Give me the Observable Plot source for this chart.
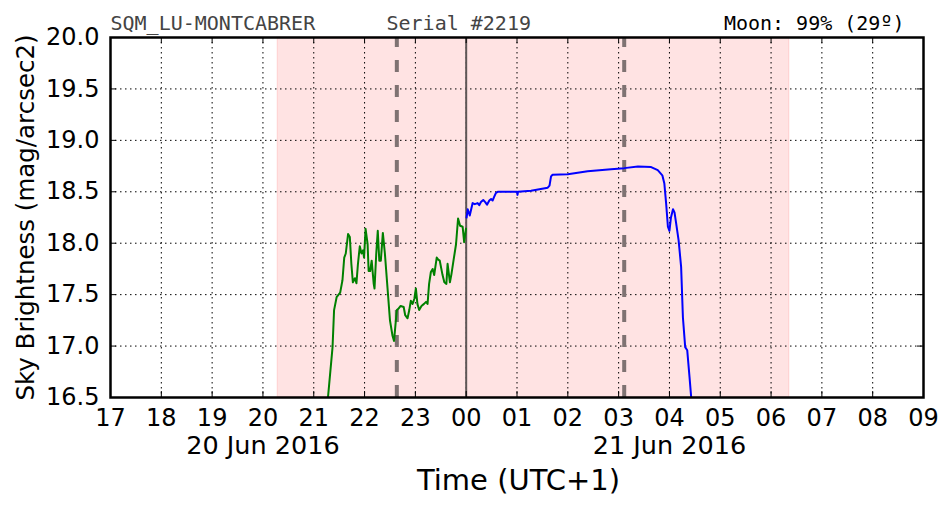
<!DOCTYPE html>
<html>
<head>
<meta charset="utf-8">
<script src="https://cdn.jsdelivr.net/npm/d3@7"></script>
<script src="https://cdn.jsdelivr.net/npm/@observablehq/plot@0.6"></script>
<style>
  html, body { margin: 0; padding: 0; background: white; }
</style>
</head>
<body>
<div id="chart"></div>
<script>
// ---- data ----
const hourTicks = [17,18,19,20,21,22,23,24,25,26,27,28,29,30,31,32,33];
const hourLabels = ["17","18","19","20","21","22","23","00","01","02","03","04","05","06","07","08","09"];
const yTicks = [16.5,17.0,17.5,18.0,18.5,19.0,19.5,20.0];
const dateTicks = [20, 28];
const dateLabels = ["20 Jun 2016", "21 Jun 2016"];
const nightStart = 20.29, nightEnd = 30.36;
const twilightLines = [22.635, 27.11];
const midnight = [24];

const greenTime = [21.28,21.37,21.40,21.45,21.52,21.565,21.60,21.63,21.676,21.71,21.74,21.77,21.81,21.84,21.87,21.906,21.94,21.97,21.99,22.02,22.06,22.08,22.11,22.14,22.18,22.196,22.23,22.26,22.29,22.32,22.36,22.40,22.46,22.50,22.55,22.58,22.616,22.635,22.66,22.71,22.77,22.80,22.846,22.88,22.91,22.945,22.98,23.01,23.04,23.075,23.12,23.17,23.21,23.24,23.27,23.305,23.34,23.37,23.42,23.45,23.48,23.535,23.57,23.61,23.634,23.68,23.71,23.75,23.80,23.84,23.88,23.93,23.96,23.995];
const greenMag  = [16.5,16.99,17.35,17.475,17.52,17.64,17.86,17.90,18.09,18.06,17.80,17.62,17.66,17.61,17.80,17.97,17.90,17.93,17.86,18.14,17.99,17.73,17.73,17.83,17.605,17.56,17.90,18.12,17.83,17.83,18.10,17.90,17.51,17.25,17.10,17.05,17.25,17.35,17.36,17.39,17.38,17.30,17.27,17.35,17.44,17.41,17.46,17.56,17.41,17.35,17.39,17.41,17.43,17.41,17.605,17.72,17.75,17.69,17.86,17.84,17.83,17.69,17.62,17.605,17.80,17.62,17.70,17.83,17.99,18.24,18.17,18.16,18.01,18.14];

const blueTime = [24.008,24.03,24.07,24.127,24.17,24.225,24.257,24.29,24.336,24.375,24.41,24.455,24.49,24.52,24.55,24.586,24.62,25.0,25.01,25.02,25.276,25.605,25.64,25.67,25.70,26.0,26.39,26.85,27.11,27.38,27.64,27.77,27.86,27.90,27.936,27.97,28.0,28.03,28.07,28.10,28.13,28.18,28.23,28.265,28.31,28.35,28.395,28.43];
const blueMag  = [18.25,18.33,18.27,18.39,18.38,18.39,18.37,18.40,18.42,18.40,18.375,18.415,18.43,18.415,18.45,18.49,18.50,18.50,18.47,18.50,18.51,18.54,18.56,18.65,18.665,18.67,18.70,18.72,18.73,18.745,18.74,18.71,18.66,18.58,18.38,18.16,18.12,18.25,18.33,18.30,18.20,18.03,17.77,17.28,16.99,16.96,16.70,16.49];

const green = greenTime.map((t, i) => ({t, v: greenMag[i]}));
const blue = blueTime.map((t, i) => ({t, v: blueMag[i]}));
const hours = hourTicks.map((h, i) => ({h, label: hourLabels[i]}));
const dates = dateTicks.map((h, i) => ({h, label: dateLabels[i]}));
const yMin = 16.5, yMax = 20.0;

const W = 952, H = 512, mL = 110, mR = 29, mT = 37, mB = 115;
const plotH = H - mT - mB, plotW = W - mL - mR;
const tickLen = 6;

const chart = Plot.plot({
  width: W, height: H,
  marginLeft: mL, marginRight: mR, marginTop: mT, marginBottom: mB,
  x: {domain: [17, 33], axis: null},
  y: {domain: [yMin, yMax], axis: null},
  style: {fontFamily: "DejaVu Sans", fontSize: "24px", background: "white", color: "black", overflow: "visible"},
  marks: [
    Plot.rect([[nightStart, nightEnd]], {x1: d => d[0], x2: d => d[1], fill: "red", fillOpacity: 0.11, stroke: "red", strokeOpacity: 0.12}),
    Plot.ruleX(hourTicks, {stroke: "black", strokeWidth: 1, strokeDasharray: "1.5,3.5"}),
    Plot.ruleY(yTicks, {stroke: "black", strokeWidth: 1, strokeDasharray: "1.5,3.5"}),
    Plot.ruleX(twilightLines, {x: d => d, y1: yMin, y2: yMax, stroke: "#7f7272", strokeWidth: 4, strokeDasharray: "12,13"}),
    Plot.ruleX(midnight, {stroke: "#5e5656", strokeWidth: 2}),
    Plot.line(green, {x: "t", y: "v", stroke: "green", strokeWidth: 2, clip: true}),
    Plot.line(blue, {x: "t", y: "v", stroke: "blue", strokeWidth: 2, clip: true}),
    // inward ticks
    Plot.ruleX(hourTicks, {stroke: "black", strokeWidth: 1, insetTop: plotH - tickLen}),
    Plot.ruleX(hourTicks, {stroke: "black", strokeWidth: 1, insetBottom: plotH - tickLen}),
    Plot.ruleY(yTicks, {stroke: "black", strokeWidth: 1, insetRight: plotW - tickLen}),
    Plot.ruleY(yTicks, {stroke: "black", strokeWidth: 1, insetLeft: plotW - tickLen}),
    Plot.frame({stroke: "black", strokeWidth: 2.5}),
    // tick labels
    Plot.text(hours, {x: "h", text: "label", frameAnchor: "bottom", lineAnchor: "top", dy: 11, fontSize: 24, fill: "black"}),
    Plot.text(yTicks, {y: d => d, text: d => d.toFixed(1), frameAnchor: "left", textAnchor: "end", dx: -11, fontSize: 24, fill: "black"}),
    Plot.text(dates, {x: "h", text: "label", frameAnchor: "bottom", lineAnchor: "top", dy: 38, fontSize: 25.5, fill: "black"}),
    // axis titles
    Plot.text(["Time (UTC+1)"], {frameAnchor: "bottom", lineAnchor: "top", dy: 72, dx: 1.5, fontSize: 29, fill: "black"}),
    Plot.text(["Sky Brightness (mag/arcsec2)"], {frameAnchor: "left", textAnchor: "middle", rotate: -90, lineAnchor: "top", dx: -94, fontSize: 24.5, fill: "black"}),
    // header
    Plot.text(["SQM_LU-MONTCABRER"], {frameAnchor: "top-left", textAnchor: "start", lineAnchor: "top", dy: -21.5, dx: 0, fontFamily: "DejaVu Sans Mono", fontSize: 20, fill: "#444444"}),
    Plot.text(["Serial #2219"], {frameAnchor: "top-left", textAnchor: "start", lineAnchor: "top", dy: -21.5, dx: 276, fontFamily: "DejaVu Sans Mono", fontSize: 20, fill: "#444444"}),
    Plot.text(["Moon: 99% (29º)"], {frameAnchor: "top-right", textAnchor: "end", lineAnchor: "top", dy: -21.5, dx: -19, fontFamily: "DejaVu Sans Mono", fontSize: 20, fill: "black"})
  ]
});
document.getElementById("chart").appendChild(chart);
</script>
</body>
</html>
